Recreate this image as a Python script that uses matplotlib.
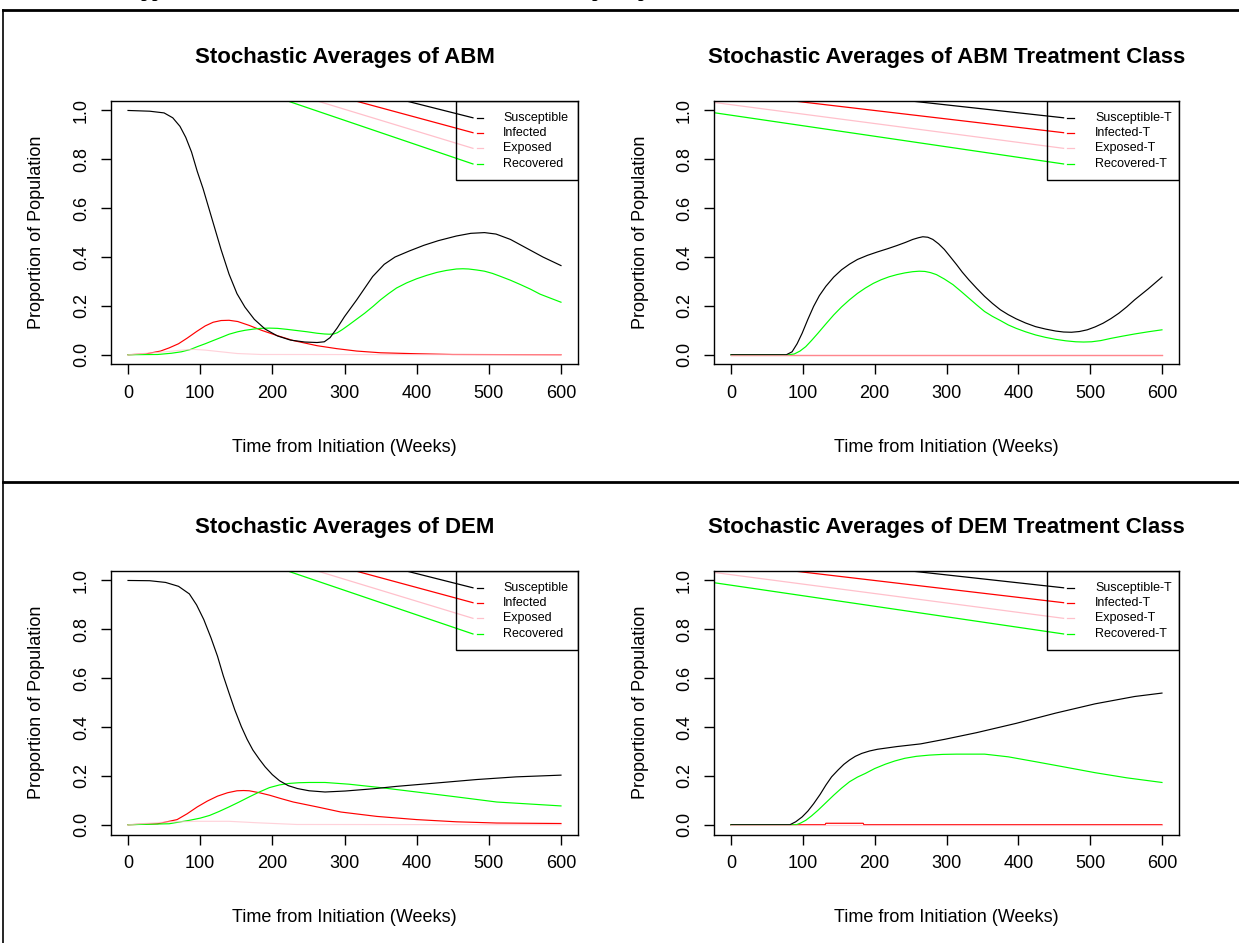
import matplotlib
matplotlib.use("Agg")
import matplotlib.pyplot as plt
from matplotlib.lines import Line2D
from matplotlib.patches import Rectangle

plt.rcParams['font.family'] = ['Liberation Sans', 'DejaVu Sans']

# ---- ABM ----
abm_t_S = [0, 30, 50, 62, 72, 80, 88, 96, 104, 112, 120, 129, 140, 151, 162, 175, 190, 207, 225, 245, 262,
           272, 280, 290, 300, 317, 339, 355, 370, 390, 410, 430, 455, 475, 494, 510, 530, 550, 575, 600]
abm_S = [1.0, 0.997, 0.99, 0.97, 0.935, 0.89, 0.83, 0.75, 0.68, 0.6, 0.52, 0.43, 0.33, 0.25, 0.195, 0.145,
         0.105, 0.077, 0.06, 0.052, 0.05, 0.053, 0.07, 0.11, 0.156, 0.225, 0.32, 0.37, 0.4, 0.425, 0.448,
         0.467, 0.486, 0.497, 0.5, 0.494, 0.472, 0.44, 0.4, 0.365]
abm_t_I = [0, 24, 45, 57, 70, 82, 95, 107, 118, 129, 140, 152, 168, 185, 205, 229, 262, 289, 317, 350, 400,
           450, 600]
abm_I = [0, 0.003, 0.015, 0.028, 0.045, 0.068, 0.095, 0.118, 0.133, 0.14, 0.141, 0.136, 0.12, 0.1, 0.08,
         0.058, 0.037, 0.025, 0.015, 0.008, 0.004, 0.001, 0.0]
abm_t_E = [0, 52, 75, 91, 107, 129, 151, 184, 600]
abm_E = [0, 0.012, 0.019, 0.022, 0.019, 0.012, 0.005, 0.001, 0.0]
abm_t_R = [0, 41, 60, 74, 86, 96, 107, 118, 130, 140, 152, 162, 174, 184, 196, 207, 220, 234, 248, 262, 272,
           279, 285, 290, 297, 306, 317, 328, 340, 350, 361, 372, 386, 400, 414, 428, 441, 455, 464, 472, 483,
           494, 505, 516, 530, 544, 558, 571, 585, 600]
abm_R = [0, 0.001, 0.006, 0.012, 0.021, 0.033, 0.045, 0.058, 0.072, 0.084, 0.094, 0.1, 0.105, 0.108, 0.109,
         0.108, 0.104, 0.099, 0.094, 0.088, 0.085, 0.084, 0.085, 0.09, 0.103, 0.122, 0.146, 0.17, 0.199,
         0.225, 0.25, 0.273, 0.294, 0.311, 0.325, 0.337, 0.345, 0.351, 0.352, 0.351, 0.347, 0.342, 0.333,
         0.321, 0.305, 0.287, 0.268, 0.248, 0.232, 0.215]

# ---- ABM treatment class ----
abmT_t_S = [0, 77, 85, 92, 99, 107, 115, 123, 132, 143, 154, 165, 176, 190, 204, 218, 231, 243, 253, 261,
            267, 274, 281, 289, 297, 305, 314, 322, 331, 342, 353, 364, 375, 386, 397, 410, 424, 438, 452,
            463, 474, 485, 496, 507, 518, 529, 540, 551, 562, 581, 600]
abmT_S = [0, 0, 0.012, 0.045, 0.088, 0.145, 0.198, 0.242, 0.28, 0.318, 0.348, 0.371, 0.39, 0.407, 0.421,
          0.434, 0.447, 0.46, 0.472, 0.479, 0.483, 0.481, 0.472, 0.454, 0.431, 0.402, 0.369, 0.338, 0.307,
          0.272, 0.239, 0.21, 0.184, 0.164, 0.147, 0.13, 0.115, 0.105, 0.097, 0.093, 0.092, 0.095, 0.102,
          0.114, 0.129, 0.148, 0.17, 0.196, 0.225, 0.27, 0.318]
abmT_t_I = [0, 600]
abmT_I = [0, 0]
abmT_t_E = [0, 600]
abmT_E = [0, 0]
abmT_t_R = [0, 80, 88, 96, 104, 112, 121, 132, 143, 154, 165, 176, 187, 198, 209, 220, 231, 242, 253, 262,
            270, 278, 286, 297, 309, 320, 331, 342, 353, 364, 375, 386, 397, 410, 424, 438, 452, 466, 480,
            491, 502, 515, 529, 545, 562, 581, 600]
abmT_R = [0, 0, 0.003, 0.015, 0.033, 0.058, 0.088, 0.126, 0.163, 0.196, 0.225, 0.251, 0.273, 0.292, 0.307,
          0.319, 0.328, 0.335, 0.34, 0.342, 0.341, 0.336, 0.328, 0.31, 0.287, 0.26, 0.232, 0.204, 0.177,
          0.157, 0.14, 0.122, 0.108, 0.094, 0.081, 0.071, 0.063, 0.057, 0.053, 0.052, 0.053, 0.058, 0.067,
          0.076, 0.085, 0.094, 0.102]

# ---- DEM ----
dem_t_S = [0, 30, 52, 70, 85, 95, 105, 115, 124, 132, 140, 148, 157, 165, 173, 182, 190, 200, 210, 222, 235,
           251, 273, 301, 339, 372, 428, 483, 538, 600]
dem_S = [1.0, 0.999, 0.992, 0.976, 0.945, 0.9, 0.84, 0.765, 0.69, 0.61, 0.539, 0.47, 0.402, 0.35, 0.306,
         0.268, 0.237, 0.205, 0.18, 0.16, 0.148, 0.139, 0.134, 0.138, 0.147, 0.157, 0.171, 0.185, 0.196, 0.203]
dem_t_I = [0, 41, 68, 82, 96, 110, 124, 138, 151, 160, 168, 182, 196, 212, 229, 262, 295, 345, 400, 455,
           511, 600]
dem_I = [0, 0.004, 0.021, 0.045, 0.073, 0.097, 0.117, 0.131, 0.139, 0.14, 0.139, 0.131, 0.121, 0.107,
         0.093, 0.073, 0.052, 0.034, 0.021, 0.012, 0.007, 0.005]
dem_t_E = [0, 52, 96, 140, 179, 234, 600]
dem_E = [0, 0.011, 0.014, 0.014, 0.008, 0.001, 0.0]
dem_t_R = [0, 57, 85, 100, 113, 126, 140, 154, 168, 182, 196, 210, 223, 237, 251, 273, 306, 350, 400, 455,
           511, 600]
dem_R = [0, 0.004, 0.018, 0.027, 0.038, 0.054, 0.073, 0.093, 0.114, 0.134, 0.152, 0.163, 0.169, 0.172,
         0.173, 0.173, 0.166, 0.152, 0.134, 0.114, 0.093, 0.077]

# ---- DEM treatment class ----
demT_t_S = [0, 82, 90, 99, 107, 115, 124, 132, 140, 149, 157, 165, 173, 182, 193, 204, 231, 264, 298, 342,
            397, 452, 507, 562, 600]
demT_S = [0, 0, 0.012, 0.032, 0.056, 0.086, 0.124, 0.162, 0.196, 0.224, 0.247, 0.265, 0.28, 0.292, 0.302,
          0.309, 0.32, 0.331, 0.35, 0.377, 0.415, 0.457, 0.495, 0.525, 0.539]
demT_t_I = [0, 131, 132, 184, 185, 600]
demT_I = [0, 0, 0.006, 0.006, 0, 0]
demT_t_E = [0, 600]
demT_E = [0, 0]
demT_t_R = [0, 91, 97, 104, 112, 121, 132, 143, 154, 165, 176, 187, 200, 215, 228, 242, 258, 276, 295, 314,
            353, 386, 424, 463, 507, 551, 600]
demT_R = [0, 0, 0.007, 0.018, 0.036, 0.059, 0.09, 0.121, 0.15, 0.176, 0.195, 0.21, 0.23, 0.248, 0.261,
          0.272, 0.28, 0.285, 0.288, 0.289, 0.289, 0.278, 0.258, 0.237, 0.213, 0.192, 0.173]

labels = ["Susceptible", "Infected", "Exposed", "Recovered"]
labels_T = ["Susceptible-T", "Infected-T", "Exposed-T", "Recovered-T"]
colors = ["black", "red", "pink", "#00ff00"]

x_ticks = [0, 100, 200, 300, 400, 500, 600]
y_ticks = [0.0, 0.2, 0.4, 0.6, 0.8, 1.0]

# legend key lines (they run in from the plot edge to each key)
key_y = [0.97, 0.909, 0.845, 0.781]
key_start_t = [384, 314, 261, 220]
key_start_y = [1.04, 1.04, 1.04, 1.04]
keyT_start_t = [247, 84, -24, -24]
keyT_start_y = [1.04, 1.04, 1.033, 0.991]

W, H = 1239, 943
fig = plt.figure(figsize=(W / 100, H / 100), dpi=100)


def px_rect(left, top, right, bottom):
    return [left / W, 1 - bottom / H, (right - left) / W, (bottom - top) / H]


def panel(rect, title, ts, ys, names, start_t, start_y, end_t, box_left, text_t):
    ax = fig.add_axes(rect)
    ax.set_xlim(-24, 624)
    ax.set_ylim(-0.04, 1.04)
    # infected, recovered, susceptible, then exposed on top
    for i in [1, 3, 0, 2]:
        ax.plot(ts[i], ys[i], color=colors[i], lw=0.85, alpha=0.7 if i == 2 else 1.0)

    ax.set_xticks(x_ticks)
    ax.set_yticks(y_ticks)
    ax.set_yticklabels(["%.1f" % v for v in y_ticks], rotation=90, va="center")
    ax.tick_params(direction="out", length=7, width=1, labelsize=13, pad=8)
    for s in ax.spines.values():
        s.set_linewidth(1.0)

    # legend
    for i in range(4):
        ax.plot([start_t[i], end_t], [start_y[i], key_y[i]], color=colors[i], lw=0.9)
        ax.plot([end_t + 5, end_t + 14], [key_y[i], key_y[i]], color=colors[i], lw=0.9)
        ax.text(text_t, key_y[i], names[i], fontsize=9, ha="left", va="center")
    ax.add_patch(Rectangle((box_left, 0.715), 624 - box_left, 1.04 - 0.715, fill=False,
                           edgecolor="black", lw=1.0, zorder=3))

    ax.text(0.5, 1.162, title, transform=ax.transAxes, ha="center", va="center",
            fontsize=16, fontweight="bold")
    ax.text(0.5, -0.315, "Time from Initiation (Weeks)", transform=ax.transAxes,
            ha="center", va="center", fontsize=13)
    ax.text(-0.158, 0.5, "Proportion of Population", transform=ax.transAxes,
            ha="center", va="center", rotation=90, fontsize=13)
    return ax


panel(px_rect(110.7, 100.7, 578.3, 364.5), "Stochastic Averages of ABM",
      [abm_t_S, abm_t_I, abm_t_E, abm_t_R], [abm_S, abm_I, abm_E, abm_R],
      labels, key_start_t, key_start_y, 478, 455, 520)
panel(px_rect(713.8, 100.7, 1179.2, 364.5), "Stochastic Averages of ABM Treatment Class",
      [abmT_t_S, abmT_t_I, abmT_t_E, abmT_t_R], [abmT_S, abmT_I, abmT_E, abmT_R],
      labels_T, keyT_start_t, keyT_start_y, 463, 440, 507)
panel(px_rect(110.7, 570.7, 578.3, 834.5), "Stochastic Averages of DEM",
      [dem_t_S, dem_t_I, dem_t_E, dem_t_R], [dem_S, dem_I, dem_E, dem_R],
      labels, key_start_t, key_start_y, 478, 455, 520)
panel(px_rect(713.8, 570.7, 1179.2, 834.5), "Stochastic Averages of DEM Treatment Class",
      [demT_t_S, demT_t_I, demT_t_E, demT_t_R], [demT_S, demT_I, demT_E, demT_R],
      labels_T, keyT_start_t, keyT_start_y, 463, 440, 507)

# frame around the figure and divider between the rows
fig.add_artist(Line2D([3 / W, 1], [1 - 10 / H, 1 - 10 / H], color="black", lw=2.0))
fig.add_artist(Line2D([3 / W, 3 / W], [0, 1 - 10 / H], color="black", lw=1.2))
fig.add_artist(Line2D([3 / W, 1], [1 - 481.5 / H, 1 - 481.5 / H], color="black", lw=2.0))

# heading line of the page above, only its descenders fall inside the figure
head_kw = dict(fontfamily="Liberation Serif", fontweight="bold", fontsize=14, va="baseline")
fig.text(128 / W, 1 + 3.2 / H, "Appendix", **head_kw)
fig.text(592 / W, 1 + 3.2 / H, "p", **head_kw)
fig.text(638 / W, 1 + 3.2 / H, "p", **head_kw)

fig.savefig("out.png", dpi=100)
